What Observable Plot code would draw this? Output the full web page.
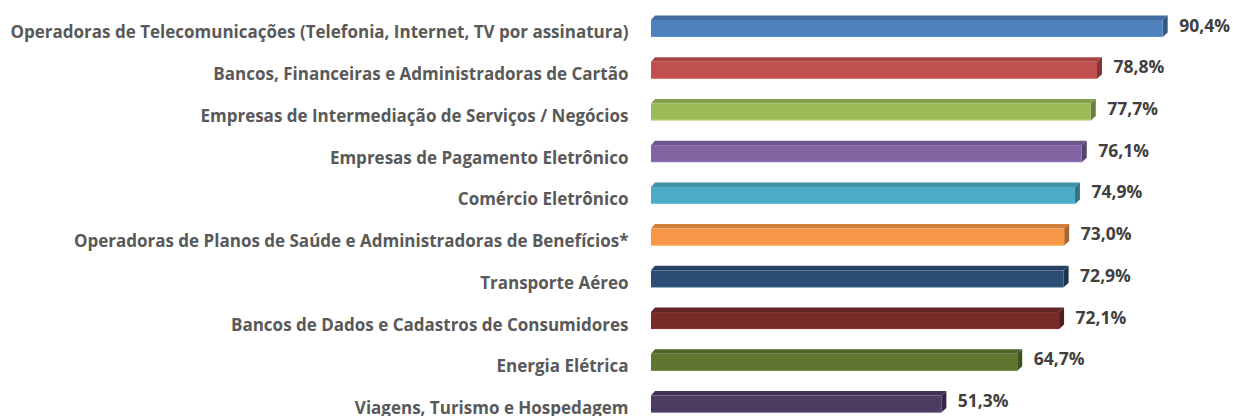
<!DOCTYPE html>
<html>
<head>
<meta charset="utf-8">
<script src="https://cdn.jsdelivr.net/npm/d3@7"></script>
<script src="https://cdn.jsdelivr.net/npm/@observablehq/plot@0.6"></script>
<style>
  html, body { margin: 0; padding: 0; background: #ffffff; }
  #chart svg { display: block; }
</style>
</head>
<body>
<div id="chart"></div>
<script>
const categories = [
  "Operadoras de Telecomunicações (Telefonia, Internet, TV por assinatura)",
  "Bancos, Financeiras e Administradoras de Cartão",
  "Empresas de Intermediação de Serviços / Negócios",
  "Empresas de Pagamento Eletrônico",
  "Comércio Eletrônico",
  "Operadoras de Planos de Saúde e Administradoras de Benefícios*",
  "Transporte Aéreo",
  "Bancos de Dados e Cadastros de Consumidores",
  "Energia Elétrica",
  "Viagens, Turismo e Hospedagem"
];
const values = [90.4, 78.8, 77.7, 76.1, 74.9, 73.0, 72.9, 72.1, 64.7, 51.3];
const colors = ["#4F81BD", "#C0504D", "#9BBB59", "#8064A2", "#4BACC6", "#F79646", "#2C4D75", "#772C2A", "#5F7530", "#4D3B62"];

const data = categories.map((c, i) => ({category: c, value: values[i], color: colors[i]}));
const fmt = v => v.toFixed(1).replace(".", ",") + "%";

// 3D bar render function drawn through Plot's scales
const BAR_H = 17;
function bars3d(index, scales) {
  const x = scales.x, y = scales.y;
  const dx = 5, dy = 4.5;
  const g = d3.create("svg:g");
  for (const d of data) {
    const x0 = x(0), x1 = x(d.value);
    const yc = y(d.category);
    const y0 = yc - BAR_H / 2, y1 = yc + BAR_H / 2;
    const base = d3.color(d.color);
    // top face
    g.append("path")
      .attr("d", `M${x0},${y0}L${x1},${y0}L${x1 + dx},${y0 - dy}L${x0 + dx - 1},${y0 - dy}Z`)
      .attr("fill", base.darker(0.45).formatHex());
    // side face
    g.append("path")
      .attr("d", `M${x1},${y0}L${x1 + dx},${y0 - dy}L${x1 + dx},${y1 - dy}L${x1},${y1}Z`)
      .attr("fill", base.darker(1.1).formatHex());
    // front face
    g.append("rect")
      .attr("x", x0).attr("y", y0)
      .attr("width", x1 - x0).attr("height", BAR_H)
      .attr("fill", d.color);
    // faint highlight at the bottom edge
    g.append("rect")
      .attr("x", x0).attr("y", y1 - 1)
      .attr("width", x1 - x0).attr("height", 1)
      .attr("fill", base.brighter(0.6).formatHex())
      .attr("opacity", 0.6);
  }
  return g.node();
}

const chart = Plot.plot({
  width: 1233,
  height: 416,
  marginLeft: 651,
  marginRight: 16,
  marginTop: 0,
  marginBottom: 0,
  style: {background: "#ffffff", fontFamily: "'Open Sans', sans-serif"},
  x: {domain: [0, 100], axis: null},
  y: {type: "point", domain: categories, axis: null, range: [28.5, 404], padding: 0, round: false},
  marks: [
    bars3d,
    Plot.text(data, {
      x: 0, y: "category", text: "category",
      textAnchor: "end", dx: -23, dy: 4,
      fill: "#595959", fontSize: 17, fontWeight: "bold"
    }),
    Plot.text(data, {
      x: "value", y: "category", text: d => fmt(d.value),
      textAnchor: "start", dx: 16, dy: -3,
      fill: "#404040", fontSize: 17.5, fontWeight: "bold"
    })
  ]
});
document.getElementById("chart").appendChild(chart);
</script>
</body>
</html>
